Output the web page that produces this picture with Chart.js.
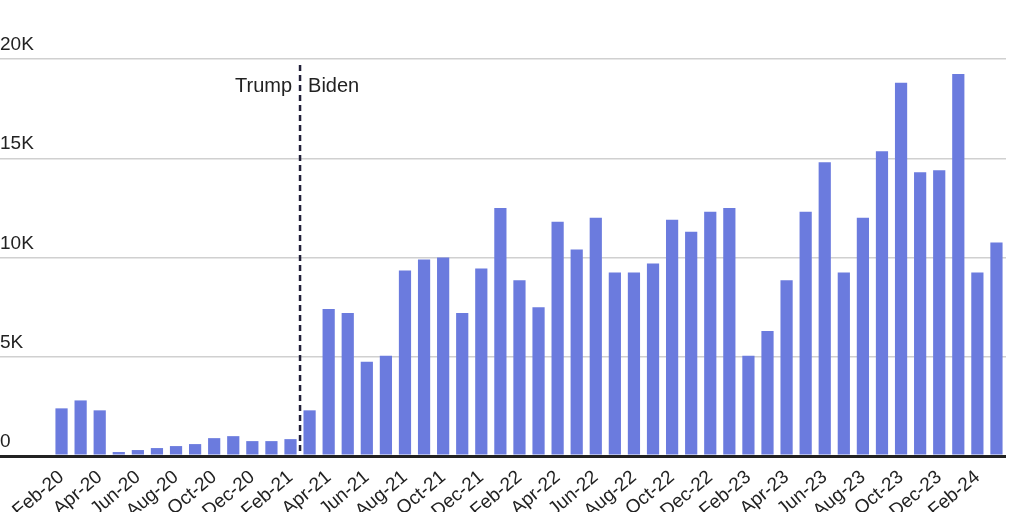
<!DOCTYPE html>
<html><head><meta charset="utf-8">
<script src="https://cdn.jsdelivr.net/npm/chart.js@4"></script>
<style>body{margin:0;background:#fff}#wrap{width:1024px;height:512px}</style>
</head><body><div id="wrap"><canvas id="myChart"></canvas></div>
<script>
const months = ['Feb-20','Mar-20','Apr-20','May-20','Jun-20','Jul-20','Aug-20','Sep-20','Oct-20','Nov-20','Dec-20','Jan-21',
  'Feb-21','Mar-21','Apr-21','May-21','Jun-21','Jul-21','Aug-21','Sep-21','Oct-21','Nov-21','Dec-21','Jan-22',
  'Feb-22','Mar-22','Apr-22','May-22','Jun-22','Jul-22','Aug-22','Sep-22','Oct-22','Nov-22','Dec-22','Jan-23',
  'Feb-23','Mar-23','Apr-23','May-23','Jun-23','Jul-23','Aug-23','Sep-23','Oct-23','Nov-23','Dec-23','Jan-24',
  'Feb-24','Mar-24'];
const values = [2400,2800,2300,200,300,400,500,600,900,1000,750,750,
  850,2300,7400,7200,4750,5050,9350,9900,10000,7200,9450,12500,
  8850,7500,11800,10400,12000,9250,9250,9700,11900,11300,12300,12500,
  5050,6300,8850,12300,14800,9250,12000,15350,18800,14300,14400,19250,
  9250,10750];
const yTicks = [0,5000,10000,15000,20000];
const yTickText = ['0','5K','10K','15K','20K'];

const divider = {
  id: 'divider',
  afterDatasetsDraw(chart) {
    const x = chart.scales.x, y = chart.scales.y, c = chart.ctx;
    const px = (x.getPixelForValue(12) + x.getPixelForValue(13)) / 2;
    c.save();
    c.strokeStyle = '#22213a'; c.lineWidth = 2.5; c.setLineDash([6, 4]);
    c.beginPath(); c.moveTo(px, y.getPixelForValue(19700)); c.lineTo(px, y.getPixelForValue(0)); c.stroke();
    c.setLineDash([]);
    c.fillStyle = '#222'; c.font = '20px "Liberation Sans", Arial'; c.textBaseline = 'middle';
    c.textAlign = 'right'; c.fillText('Trump', px - 8, y.getPixelForValue(18600));
    c.textAlign = 'left'; c.fillText('Biden', px + 8, y.getPixelForValue(18600));
    c.restore();
  }
};

new Chart(document.getElementById('myChart'), {
  type: 'bar',
  data: {
    labels: months,
    datasets: [{ data: values, backgroundColor: '#6b7bde', barPercentage: 0.64, categoryPercentage: 1 }]
  },
  options: {
    animation: false,
    responsive: true,
    maintainAspectRatio: false,
    layout: { padding: { top: 59, right: 18, left: 0 } },
    plugins: { legend: { display: false }, tooltip: { enabled: false } },
    scales: {
      x: {
        afterFit: s => { s.height = 56; },
        grid: { display: false },
        border: { display: false },
        ticks: {
          autoSkip: false, maxRotation: 40, minRotation: 40, color: '#222', padding: 2,
          font: { family: '"Liberation Sans", Arial', size: 19 },
          callback: (v, i) => i % 2 === 0 ? months[i] : ''
        }
      },
      y: {
        min: 0, max: 20000,
        afterFit: s => { s.width = 52; },
        afterBuildTicks: s => { s.ticks = yTicks.map(v => ({ value: v })); },
        border: { display: false },
        grid: {
          color: c => c.tick && c.tick.value === 0 ? '#222' : '#d0d0d0',
          lineWidth: c => c.tick && c.tick.value === 0 ? 3 : 1.5,
          tickLength: 52, drawTicks: true
        },
        ticks: {
          crossAlign: 'far', labelOffset: -14, padding: 0, color: '#222',
          font: { family: '"Liberation Sans", Arial', size: 19 },
          callback: (v) => yTickText[yTicks.indexOf(v)]
        }
      }
    }
  },
  plugins: [divider]
});
</script></body></html>
